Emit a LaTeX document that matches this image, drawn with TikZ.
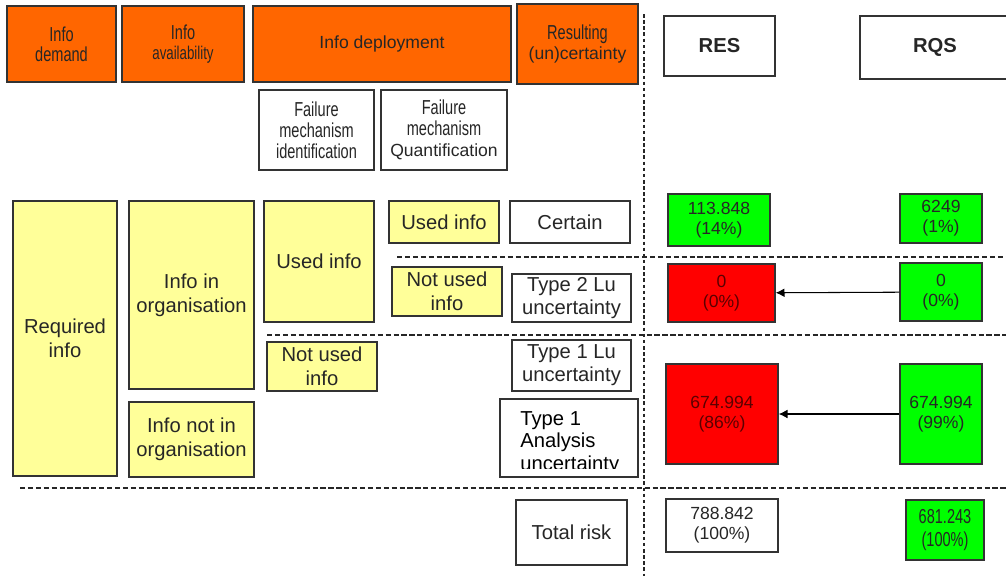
\documentclass[tikz,border=0pt]{standalone}
\usepackage{fontspec}
\setmainfont{Liberation Sans}
\newfontfamily\narrowfont[FakeStretch=0.72]{Liberation Sans}
\usetikzlibrary{arrows.meta}
\definecolor{headorange}{HTML}{FF6600}
\definecolor{infoyellow}{HTML}{FFFF99}
\definecolor{okgreen}{HTML}{00FF00}
\definecolor{badred}{HTML}{FF0000}
\definecolor{darkred}{HTML}{5A0000}
\newcommand{\nrw}[1]{{\narrowfont\fontsize{11.5}{11.5}\selectfont #1}}
\begin{document}
\begin{tikzpicture}[x=0.02cm,y=-0.02cm,
  sz/.style 2 args={minimum width=#1*0.02cm,minimum height=#2*0.02cm},
  cell/.style={draw=black!80,line width=0.8pt,inner sep=0pt,align=center,text=black!85},
  head/.style={cell,fill=headorange,font=\fontsize{10}{11.5}\selectfont},
  info/.style={cell,fill=infoyellow,font=\fontsize{11.5}{13.5}\selectfont},
  plain/.style={cell,fill=white,font=\fontsize{11.5}{13}\selectfont},
  val/.style={cell,font=\fontsize{10}{11.5}\selectfont},
  sep/.style={black!85,line width=0.7pt,dash pattern=on 3pt off 1.5pt}]
  \useasboundingbox (0,0) rectangle (1006,576);

  % header row
  \node[head,sz={109}{76}] (demand) at (61.5,44) {\nrw{Info}\\\nrw{demand}};
  \node[head,sz={122}{76}] (avail) at (183,44) {\nrw{Info}\\{\narrowfont\fontsize{10.5}{11.5}\selectfont availability}};
  \node[head,sz={258}{76}] (deploy) at (382,44) {Info deployment};
  \node[head,sz={121}{80}] (result) at (577.5,44) {\nrw{Resulting}\\(un)certainty};
  \node[plain,sz={111}{60},font=\fontsize{11.5}{13}\selectfont\bfseries] (res) at (719.5,46) {RES};
  \node[plain,sz={150}{63},font=\fontsize{11.5}{13}\selectfont\bfseries] (rqs) at (935,47.5) {RQS};
  \node[plain,sz={115}{80},font=\fontsize{10}{12}\selectfont] (fmident) at (316.5,130) {\nrw{Failure}\\\nrw{mechanism}\\\nrw{identification}};
  \node[plain,sz={126}{80},font=\fontsize{10}{12}\selectfont] (fmquant) at (444,130) {\nrw{Failure}\\\nrw{mechanism}\\Quantification};

  % info blocks
  \node[info,sz={104}{275}] (required) at (65,338.5) {Required\\info};
  \node[info,sz={125}{188}] (inorg) at (191.5,295) {Info in\\organisation};
  \node[info,sz={125}{75}] (notinorg) at (191.5,439.5) {Info not in\\organisation};
  \node[info,sz={110}{121}] (used) at (319,261.5) {Used info};
  \node[info,sz={110}{49}] (notused) at (322,366.5) {Not used\\info};
  \node[info,sz={110}{42}] (usedq) at (444,222) {Used info};
  \node[info,sz={110}{49}] (notusedq) at (447,291.5) {Not used\\info};

  % resulting (un)certainty
  \node[plain,sz={120}{42}] (certain) at (570,222) {Certain};
  \node[plain,sz={119}{48}] (lutwo) at (571.5,298) {Type 2 Lu\\uncertainty};
  \node[plain,sz={119}{51}] (luone) at (571.5,365.5) {Type 1 Lu\\uncertainty};
  \node[plain,sz={138}{78}] (analysis) at (569,438) {};
  \begin{scope}
    \clip (500,399) rectangle (638,468);
    \node[anchor=north west,align=left,inner sep=0pt,font=\fontsize{11.5}{12.8}\selectfont] (analysistext) at (520,411) {Type 1\\Analysis\\uncertainty};
  \end{scope}
  \node[plain,sz={111}{65}] (total) at (571.5,532.5) {Total risk};

  % RES and RQS values
  \node[val,fill=okgreen,sz={102}{52}] (rescertain) at (719,220) {113.848\\(14\%)};
  \node[val,fill=okgreen,sz={82}{49}] (rqscertain) at (941,218.5) {6249\\(1\%)};
  \node[val,fill=badred,text=darkred,sz={107}{58}] (reslutwo) at (721.5,293) {0\\(0\%)};
  \node[val,fill=okgreen,sz={82}{58}] (rqslutwo) at (941,292) {0\\(0\%)};
  \node[val,fill=badred,text=darkred,sz={112}{100}] (resluone) at (722,414) {674.994\\(86\%)};
  \node[val,fill=okgreen,sz={82}{100}] (rqsluone) at (941,414) {674.994\\(99\%)};
  \node[val,fill=white,sz={112}{53}] (restotal) at (722,525.5) {788.842\\(100\%)};
  \node[val,fill=okgreen,sz={78}{60},font=\fontsize{10}{13}\selectfont] (rqstotal) at (945,530) {\nrw{681.243}\\\nrw{(100\%)}};

  \path[-{Latex[length=5pt,width=5pt]},line width=0.6pt] (rqslutwo) edge (reslutwo);
  \path[-{Latex[length=5pt,width=5pt]},line width=0.6pt] (rqsluone) edge (resluone);

  % separators
  \draw[sep,dash pattern=on 2pt off 1.5pt] (644,14) -- (644,576);
  \draw[sep] (397,257) -- (1006,257);
  \draw[sep] (267,335) -- (1006,335);
  \draw[sep] (20,488) -- (1006,488);
\end{tikzpicture}
\end{document}
